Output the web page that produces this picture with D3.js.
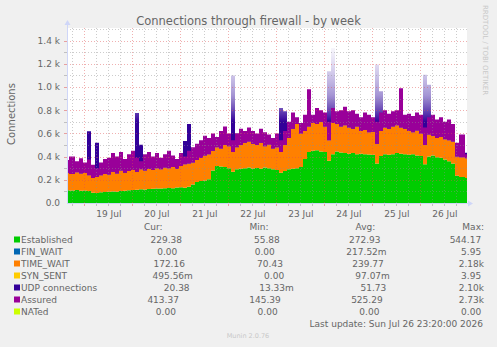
<!DOCTYPE html>
<html>
<head>
<meta charset="utf-8">
<script src="https://cdn.jsdelivr.net/npm/d3@7"></script>
<style>
body { margin: 0; background: #f0f0f0; }
svg text { font-family: "DejaVu Sans", sans-serif; fill: #666; }
</style>
</head>
<body>
<svg id="chart" width="497" height="347"></svg>
<script>
// one sample every 2 hours, Jul 18 15:20 -> Jul 26 23:20
const established = [110,108,112,105,108,104,88,86,92,95, 96,100,98,103,106,110,112,115,118,116,
  120,122,125,124,128,130,128,133,136,132, 140,160,180,190,195,205,280,320,315,310,
  300,270,290,295,300,305,298,302,295,305, 300,290,285,260,275,290,295,300,310,380,
  440,450,455,445,440,365,420,445,435,430, 425,430,420,425,420,418,415,340,405,420,
  415,420,430,425,420,415,420,410,405,335, 400,410,395,390,375,360,340,235,225,215];
const finWait = [0,0,0,0,0,0,0,0,0,0, 0,0,0,0,0,0,0,0,0,0, 0,0,0,0,0,0,0,0,0,0, 0,0,0,0,0,0,0,0,0,0,
  0,0,0,0,0,0,0,0,0,0, 0,0,0,0,0,0,0,0,0,0, 0,0,0,0,0,0,0,0,0,0, 0,0,0,0,0,0,0,0,0,0,
  0,0,0,0,0,0,0,0,0,0, 0,0,0,0,0,0,0,0,0,0];
const timeWait = [150,142,153,150,150,136,127,139,148,155, 149,170,157,177,154,165,173,155,172,164,
  175,163,175,166,177,170,182,162,184,203, 200,190,190,200,215,215,170,160,155,190,
  190,170,190,205,220,225,212,198,225,185, 205,180,195,180,225,270,345,380,290,240,
  220,240,225,255,220,175,270,235,225,240, 225,210,240,195,210,192,200,170,215,230,
  225,240,240,225,220,205,190,215,195,165, 190,170,165,180,175,180,190,165,170,170];
const synSent = [0,0,0,0,0,0,0,0,0,0, 0,0,0,0,0,0,0,0,0,0, 0,0,0,0,0,0,0,0,0,0, 0,0,0,0,0,0,0,0,0,0,
  0,0,0,0,0,0,0,0,0,0, 0,0,0,0,0,0,0,0,0,0, 0,0,0,0,0,0,0,0,0,0, 0,0,0,0,0,0,0,0,0,0,
  0,0,0,0,0,0,0,0,0,0, 0,0,0,0,0,0,0,0,0,0];
const udp = [40,45,38,50,42,378,60,295,45,40, 38,42,50,44,40,46,42,506,213,45,
  40,48,44,52,46,40,50,45,55,200, 340,48,52,45,50,55,48,60,52,58,
  50,660,120,55,48,52,60,50,55,58, 52,48,50,380,290,60,55,50,62,58,
  55,60,52,58,50,595,646,55,60,52, 58,55,50,60,52,55,48,683,343,58,
  52,60,55,58,50,55,52,48,55,606, 430,55,50,52,48,55,50,45,52,48];
const assured = [370,400,360,385,350,375,330,300,350,380, 390,430,400,440,380,420,450,390,360,420,
  440,400,430,390,420,450,410,380,430,400, 450,480,510,540,580,560,600,570,620,660,
  600,540,600,640,620,650,620,600,640,610, 590,560,600,540,620,700,780,740,690,760,
  980,760,820,800,780,700,820,790,800,830, 790,800,770,740,780,760,740,700,780,800,
  770,790,800,990,760,770,750,780,760,650, 740,760,720,740,700,720,680,520,590,420];

const labels = ["Established", "FIN_WAIT", "TIME_WAIT", "SYN_SENT", "UDP connections", "Assured", "NATed"];
const colors = ["#00CC00", "#0066B3", "#FF8000", "#FFCC00", "#330099", "#990099", "#CCFF00"];
const curVals = [229.38, 0, 172.16, 0.49556, 20.38, 413.37, 0];
const minVals = [55.88, 0, 70.43, 0, 0.01333, 145.39, 0];
const avgVals = [272.93, 0.21752, 239.77, 0.09707, 51.73, 525.29, 0];
const maxVals = [544.17, 5.95, 2180, 3.95, 2100, 2730, 0];
const headers = ["Cur:", "Min:", "Avg:", "Max:"];

const yTickValues = [0, 200, 400, 600, 800, 1000, 1200, 1400];
const yTickLabels = ["0.0", "0.2 k", "0.4 k", "0.6 k", "0.8 k", "1.0 k", "1.2 k", "1.4 k"];
const dayLabels = ["19 Jul", "20 Jul", "21 Jul", "22 Jul", "23 Jul", "24 Jul", "25 Jul", "26 Jul"];

const endTime = new Date(Date.UTC(2026, 6, 26, 23, 20));
const startTime = new Date(endTime - 400 * 1800 * 1000);

const svg = d3.select("#chart");
const pL = 67, pR = 467, pT = 28, pB = 203;

const x = d3.scaleUtc().domain([startTime, endTime]).range([pL, pR]);
const y = d3.scaleLinear().domain([0, 1508.6]).range([pB, pT]);

svg.append("rect").attr("width", 497).attr("height", 347).attr("fill", "#f0f0f0");
svg.append("rect").attr("x", pL).attr("y", pT).attr("width", pR - pL).attr("height", pB - pT).attr("fill", "#fff");

const defs = svg.append("defs");
defs.append("clipPath").attr("id", "plotClip").append("rect")
  .attr("x", pL).attr("y", pT).attr("width", pR - pL).attr("height", pB - pT);
const grad = defs.append("linearGradient").attr("id", "udpFade")
  .attr("gradientUnits", "userSpaceOnUse")
  .attr("x1", 0).attr("x2", 0).attr("y1", y(700)).attr("y2", y(1350));
grad.append("stop").attr("offset", 0).attr("stop-color", "#330099").attr("stop-opacity", 1);
grad.append("stop").attr("offset", 0.35).attr("stop-color", "#5a3cb0").attr("stop-opacity", 0.55);
grad.append("stop").attr("offset", 1).attr("stop-color", "#8a78d0").attr("stop-opacity", 0.05);

// table for the stack, samples are 2 h wide
const n = established.length;
const stepMs = (endTime - startTime) / n;
const rows = established.map((d, i) => ({
  t: new Date(+startTime + (i + 0.5) * stepMs),
  established: d, finWait: finWait[i], timeWait: timeWait[i], synSent: synSent[i], udp: udp[i], assured: assured[i]
}));
const keys = ["established", "finWait", "timeWait", "synSent", "udp"];
const stacked = d3.stack().keys(keys)(rows);

const plot = svg.append("g").attr("clip-path", "url(#plotClip)");
// widen the first and last step to the plot edges
const xs = (i) => i === 0 ? pL - 2 : (i === n - 1 ? pR + 2 : x(rows[i].t));
const area = d3.area().curve(d3.curveStep).x((d, i) => xs(i)).y0(d => y(d[0])).y1(d => y(d[1]));

plot.selectAll("path.layer")
  .data(stacked)
  .join("path")
  .attr("class", "layer")
  .attr("fill", (d, i) => i === 4 ? "url(#udpFade)" : colors[i])
  .attr("d", area);

// Assured drawn over the stack
const base = stacked[3];
const assuredArea = d3.area().curve(d3.curveStep)
  .x((d, i) => xs(i))
  .y0((d, i) => y(base[i][1]))
  .y1((d, i) => y(Math.max(d, base[i][1])));
plot.append("path").datum(assured).attr("fill", colors[5]).attr("d", assuredArea);

// grid
const gMinor = "#8f8f8f", gMajor = "#de4f4f";
const grid = svg.append("g").attr("shape-rendering", "crispEdges");
const hMinor = d3.range(100, 1600, 100);
grid.selectAll("line.h")
  .data(hMinor)
  .join("line")
  .attr("x1", pL).attr("x2", pR)
  .attr("y1", d => Math.round(y(d)) + 0.5).attr("y2", d => Math.round(y(d)) + 0.5)
  .attr("stroke", d => d % 200 === 0 ? gMajor : gMinor)
  .attr("stroke-opacity", d => d % 200 === 0 ? 0.45 : 0.45)
  .attr("stroke-dasharray", "1,2");

const sixHours = d3.utcHour.every(6).range(startTime, endTime).filter(t => t > startTime);
grid.selectAll("line.v")
  .data(sixHours)
  .join("line")
  .attr("x1", d => Math.round(x(d)) + 0.5).attr("x2", d => Math.round(x(d)) + 0.5)
  .attr("y1", pT).attr("y2", pB)
  .attr("stroke", d => d.getUTCHours() === 0 ? gMajor : gMinor)
  .attr("stroke-opacity", 0.45)
  .attr("stroke-dasharray", "1,2");

// small ticks on the axes
grid.selectAll("line.yt")
  .data(hMinor.filter(d => d < 1500))
  .join("line")
  .attr("x1", pL - 3).attr("x2", pL)
  .attr("y1", d => Math.round(y(d)) + 0.5).attr("y2", d => Math.round(y(d)) + 0.5)
  .attr("stroke", d => d % 200 === 0 ? gMajor : gMinor)
  .attr("stroke-opacity", 0.5);
grid.selectAll("line.xt")
  .data(sixHours)
  .join("line")
  .attr("x1", d => Math.round(x(d)) + 0.5).attr("x2", d => Math.round(x(d)) + 0.5)
  .attr("y1", pB).attr("y2", pB + 3)
  .attr("stroke", d => d.getUTCHours() === 0 ? gMajor : gMinor)
  .attr("stroke-opacity", 0.5);

// axis lines with arrows
const axisCol = "#CFD6F8";
svg.append("line").attr("x1", pL + 0.5).attr("x2", pL + 0.5).attr("y1", pB + 1).attr("y2", 24)
  .attr("stroke", axisCol);
svg.append("path").attr("d", `M${pL - 2.5},25L${pL + 3.5},25L${pL + 0.5},20Z`).attr("fill", axisCol);
svg.append("line").attr("x1", pL).attr("x2", 470).attr("y1", pB + 0.5).attr("y2", pB + 0.5)
  .attr("stroke", axisCol);
svg.append("path").attr("d", `M468,${pB - 2.5}L468,${pB + 3.5}L473,${pB + 0.5}Z`).attr("fill", axisCol);

// tick labels
svg.append("g").attr("transform", `translate(${pL},0)`)
  .call(d3.axisLeft(y).tickValues(yTickValues).tickFormat((d, i) => yTickLabels[i]).tickSize(0).tickPadding(7));
const noons = d3.utcDay.range(startTime, endTime).map(d => d3.utcHour.offset(d, 12)).filter(d => d > startTime && d < endTime);
svg.append("g").attr("transform", `translate(0,${pB})`)
  .call(d3.axisBottom(x).tickValues(noons).tickFormat((d, i) => dayLabels[i]).tickSize(0).tickPadding(8));
svg.selectAll(".domain").remove();
svg.selectAll(".tick text").attr("fill", "#666").style("font-size", "9px").style("font-family", "DejaVu Sans");

// title and side texts
svg.append("text").attr("x", 248.5).attr("y", 25).attr("text-anchor", "middle")
  .style("font-size", "11.5px").text("Connections through firewall - by week");
svg.append("text").attr("transform", "translate(15,114) rotate(-90)").attr("text-anchor", "middle")
  .style("font-size", "10px").text("Connections");
svg.append("text").attr("transform", "translate(483,5) rotate(90)")
  .style("font-size", "7px").style("fill", "#c8c8c8").text("RRDTOOL / TOBI OETIKER");

// legend, justified like rrdtool \j
function fmt(v) {
  let s = " ", val = v;
  if (v !== 0 && Math.abs(v) < 1) { val = v * 1000; s = "m"; }
  else if (Math.abs(v) >= 1000) { val = v / 1000; s = "k"; }
  return val.toFixed(2).padStart(6, " ") + s;
}
const legL = 14, legR = 484, fs = "9px";
const padLen = d3.max(labels, d => d.length);

function justifyRow(yBase, firstW, items) {
  const g = svg.append("g");
  const texts = items.map(s => g.append("text").attr("y", yBase).attr("xml:space", "preserve")
    .style("white-space", "pre").style("font-size", fs).text(s));
  const widths = texts.map(t => t.node().getComputedTextLength());
  const total = firstW + d3.sum(widths);
  const gap = (legR - legL - total) / items.length;
  let cx = legL + firstW + gap;
  texts.forEach((t, i) => { t.attr("x", cx); cx += widths[i] + gap; });
  return g;
}

// header row
const spacer = svg.append("text").attr("xml:space", "preserve").style("white-space", "pre")
  .style("font-size", fs).attr("y", -20).text(" ".repeat(padLen));
const spacerW = spacer.node().getComputedTextLength();
spacer.remove();
justifyRow(230, spacerW, headers);

labels.forEach((lab, i) => {
  const yb = 243 + i * 12;
  svg.append("rect").attr("x", legL).attr("y", yb - 6.5).attr("width", 6).attr("height", 6).attr("fill", colors[i]);
  const lt = svg.append("text").attr("x", legL + 7).attr("y", yb).attr("xml:space", "preserve")
    .style("white-space", "pre").style("font-size", fs).text(lab.padEnd(padLen, " "));
  const w = 7 + lt.node().getComputedTextLength();
  justifyRow(yb, w, [fmt(curVals[i]), fmt(minVals[i]), fmt(avgVals[i]), fmt(maxVals[i])]);
});

svg.append("text").attr("x", 483).attr("y", 327).attr("text-anchor", "end").style("font-size", fs)
  .text("Last update: " + d3.utcFormat("%a %b %d %H:%M:%S %Y")(endTime));
svg.append("text").attr("x", 248).attr("y", 337.5).attr("text-anchor", "middle")
  .style("font-size", "6.5px").style("fill", "#c8c8c8").text("Munin 2.0.76");
</script>
</body>
</html>
